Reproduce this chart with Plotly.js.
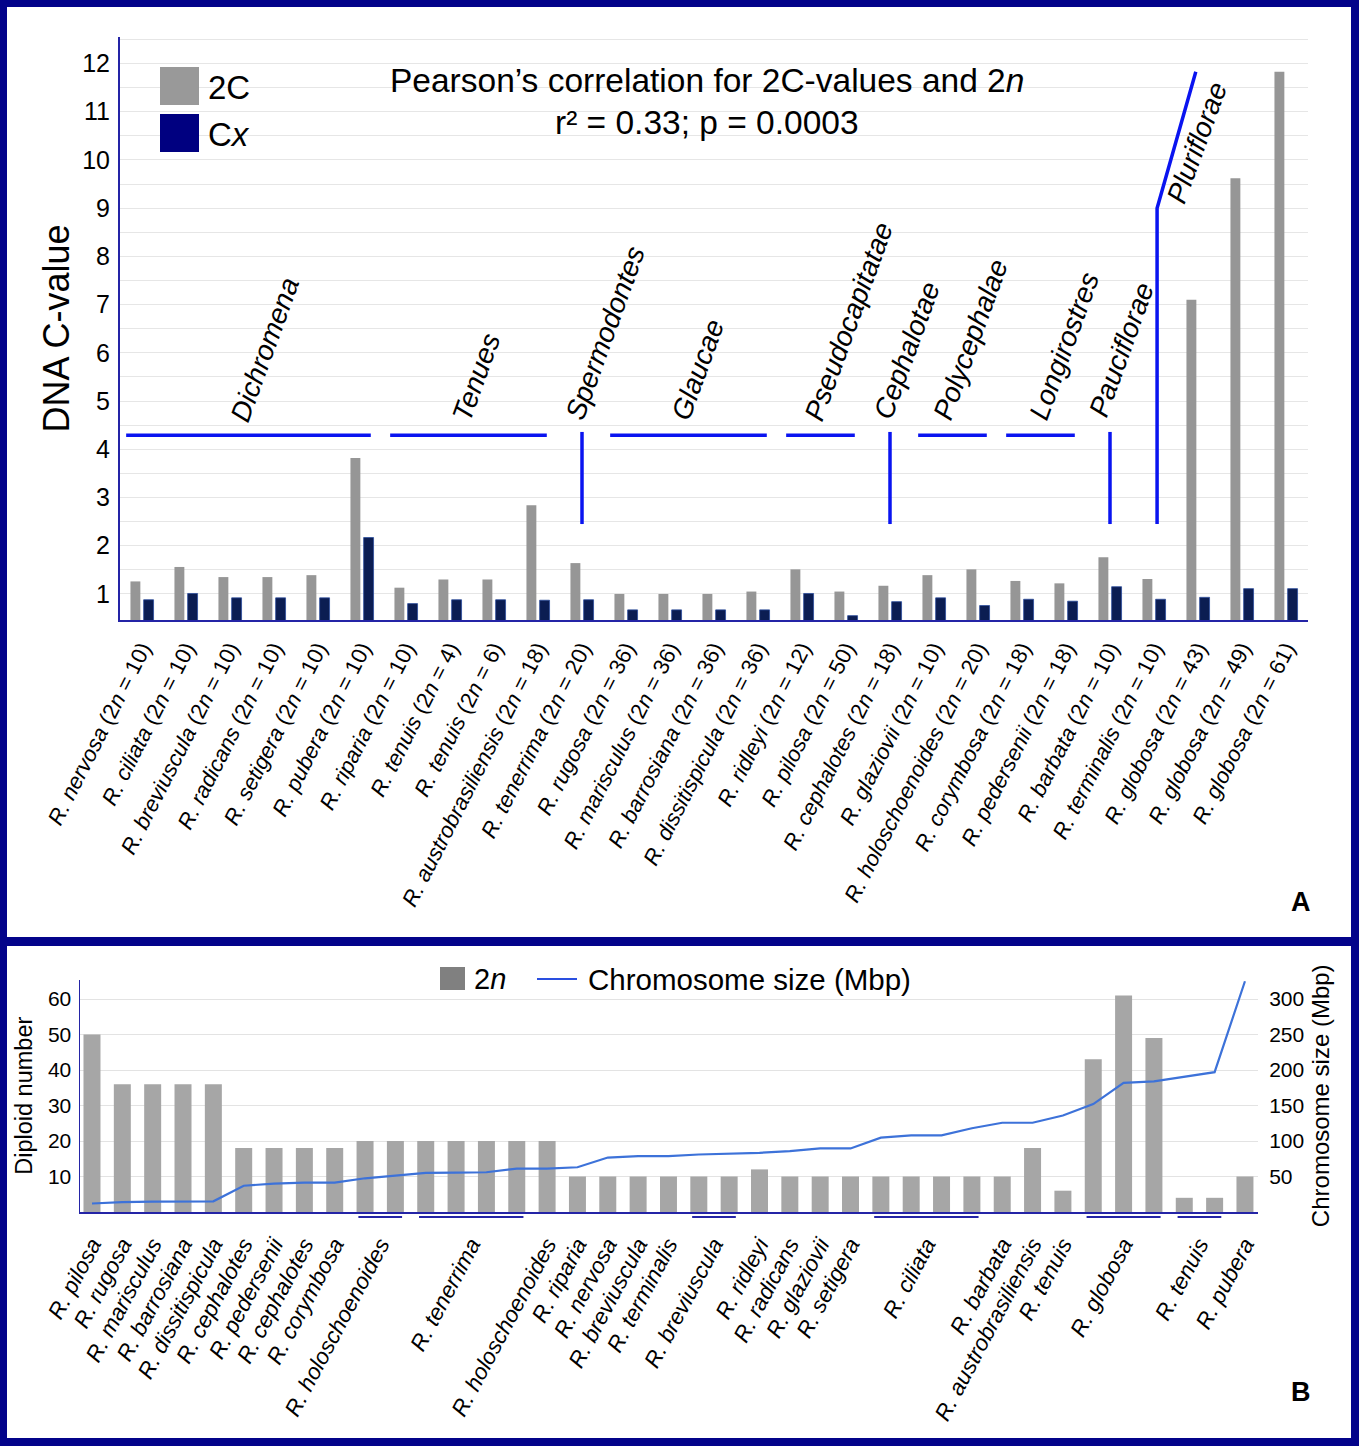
<!DOCTYPE html>
<html>
<head>
<meta charset="utf-8">
<script src="https://cdn.plot.ly/plotly-3.0.1.min.js"></script>
<style>
html,body{margin:0;padding:0;background:#fff;}
#chart{width:1359px;height:1446px;}
</style>
</head>
<body>
<div id="chart"></div>
<script>
// ---------- Panel A data ----------
const aSpecies = ['nervosa','ciliata','breviuscula','radicans','setigera','pubera','riparia','tenuis','tenuis','austrobrasiliensis','tenerrima','rugosa','marisculus','barrosiana','dissitispicula','ridleyi','pilosa','cephalotes','glaziovii','holoschoenoides','corymbosa','pedersenii','barbata','terminalis','globosa','globosa','globosa'];
const a2n = [10,10,10,10,10,10,10,4,6,18,20,36,36,36,36,12,50,18,10,20,18,18,10,10,43,49,61];
const a2C = [1.26,1.56,1.35,1.35,1.39,3.82,1.13,1.30,1.30,2.84,1.64,1.00,1.00,1.00,1.05,1.51,1.05,1.17,1.39,1.51,1.27,1.22,1.76,1.31,7.10,9.62,11.83];
const aCx = [0.88,1.01,0.92,0.92,0.92,2.17,0.80,0.88,0.88,0.87,0.88,0.67,0.67,0.67,0.67,1.01,0.55,0.84,0.92,0.76,0.89,0.85,1.15,0.89,0.93,1.11,1.11];

// Sections (category index spans)
const sections = [
  {name:'Dichromena', from:0, to:5, kind:'h'},
  {name:'Tenues', from:6, to:9, kind:'h'},
  {name:'Spermodontes', from:10, to:10, kind:'v'},
  {name:'Glaucae', from:11, to:14, kind:'h'},
  {name:'Pseudocapitatae', from:15, to:16, kind:'h'},
  {name:'Cephalotae', from:17, to:17, kind:'v'},
  {name:'Polycephalae', from:18, to:19, kind:'h'},
  {name:'Longirostres', from:20, to:21, kind:'h'},
  {name:'Pauciflorae', from:22, to:22, kind:'v'},
  {name:'Pluriflorae', from:23, to:26, kind:'p'}
];

// ---------- Panel B data ----------
const bSpecies = ['pilosa','rugosa','marisculus','barrosiana','dissitispicula','cephalotes','pedersenii','cephalotes','corymbosa','holoschoenoides','holoschoenoides','tenerrima','tenerrima','tenerrima','tenerrima','holoschoenoides','riparia','nervosa','breviuscula','terminalis','breviuscula','breviuscula','ridleyi','radicans','glaziovii','setigera','ciliata','ciliata','ciliata','ciliata','barbata','austrobrasiliensis','tenuis','globosa','globosa','globosa','tenuis','tenuis','pubera'];
const b2n = [50,36,36,36,36,18,18,18,18,20,20,20,20,20,20,20,10,10,10,10,10,10,12,10,10,10,10,10,10,10,10,18,6,43,61,49,4,4,10];
const bChrom = [12,14,14.5,15,15,37,40,41.5,41.5,47.5,51,55,55.5,56,61,61,63,76.7,78.6,78.6,81,82,83.3,85.7,89.5,89.5,104.8,108,108,118,125.7,125.7,136,152,182,184,191,197,325];

// ---------- helpers ----------
const W = 1359, H = 1446;
const PX = v => v / W, PY = v => 1 - v / H;
const FONT = 'Liberation Sans, Arial, Helvetica, sans-serif';
const NAVY = '#03038a';
const AXC = '#2424a6';

const aCats = aSpecies.map((s,i) => s + '|' + a2n[i] + '|' + i);
const aTicks = aSpecies.map((s,i) => '<i>R. ' + s + '</i> (2<i>n</i> = ' + a2n[i] + ')');
const bIdx = bSpecies.map((s,i) => i);

// runs of identical consecutive species in panel B
const runs = [];
bSpecies.forEach((s,i) => {
  const last = runs[runs.length-1];
  if (last && last.name === s) last.end = i; else runs.push({name:s, start:i, end:i});
});

const traces = [
  {type:'bar', x:aCats, y:a2C, name:'2C', marker:{color:'#969696'}, xaxis:'x', yaxis:'y', hoverinfo:'skip'},
  {type:'bar', x:aCats, y:aCx, name:'Cx', marker:{color:'#0b1d52', line:{color:'#2c4c9c', width:0.8}}, xaxis:'x', yaxis:'y', hoverinfo:'skip'},
  {type:'bar', x:bIdx, y:b2n, name:'2n', marker:{color:'#a6a6a6'}, width:0.56, xaxis:'x2', yaxis:'y2', hoverinfo:'skip'},
  {type:'scatter', mode:'lines', x:bIdx, y:bChrom, name:'Chromosome size (Mbp)', line:{color:'#3d72d9', width:2.2}, xaxis:'x2', yaxis:'y3', hoverinfo:'skip'}
];

const shapes = [];
const annotations = [];

// Panel A section lines and labels
const LINE_Y = 4.29, VTOP = 4.36, VBOT = 2.45;
const labelPos = {
  Dichromena:[2.80,6.06], Tenues:[7.61,5.50], Spermodontes:[10.52,6.41], Glaucae:[12.64,5.65],
  Pseudocapitatae:[16.07,6.64], Cephalotae:[17.39,6.04], Polycephalae:[18.84,6.27],
  Longirostres:[20.95,6.14], Pauciflorae:[22.27,6.06], Pluriflorae:[23.98,10.36]
};
sections.forEach(s => {
  const ln = {color:'#0a14f0', width:3.5};
  if (s.kind === 'h') {
    shapes.push({type:'line', xref:'x', yref:'y', x0:s.from-0.36, x1:s.to+0.2, y0:LINE_Y, y1:LINE_Y, line:ln});
  } else if (s.kind === 'v') {
    shapes.push({type:'line', xref:'x', yref:'y', x0:s.from, x1:s.from, y0:VBOT, y1:VTOP, line:ln});
  } else {
    shapes.push({type:'path', xref:'x', yref:'y', path:`M ${s.from+0.07} ${VBOT} L ${s.from+0.07} 9.0 L ${s.from+0.95} 11.83`, line:ln});
  }
  const p = labelPos[s.name];
  annotations.push({xref:'x', yref:'y', x:p[0], y:p[1], text:'<i>'+s.name+'</i>', showarrow:false, textangle:-70,
    font:{family:FONT, size:28, color:'#000'}, xanchor:'center', yanchor:'middle'});
});

// Panel A title
annotations.push({xref:'paper', yref:'paper', x:PX(707), y:PY(80), text:'Pearson\u2019s correlation for 2C-values and 2<i>n</i>', showarrow:false, font:{family:FONT, size:33.5, color:'#000'}, xanchor:'center', yanchor:'middle'});
annotations.push({xref:'paper', yref:'paper', x:PX(707), y:PY(122), text:'r\u00b2 = 0.33; p = 0.0003', showarrow:false, font:{family:FONT, size:33.5, color:'#000'}, xanchor:'center', yanchor:'middle'});

// Panel A legend
shapes.push({type:'rect', xref:'paper', yref:'paper', x0:PX(160), x1:PX(199), y0:PY(105), y1:PY(67), fillcolor:'#999999', line:{width:0}});
shapes.push({type:'rect', xref:'paper', yref:'paper', x0:PX(160), x1:PX(199), y0:PY(152), y1:PY(114), fillcolor:'#000080', line:{width:0}});
annotations.push({xref:'paper', yref:'paper', x:PX(206), y:PY(87), text:'2C', showarrow:false, font:{family:FONT, size:33, color:'#000'}, xanchor:'left', yanchor:'middle'});
annotations.push({xref:'paper', yref:'paper', x:PX(206), y:PY(134), text:'C<i>x</i>', showarrow:false, font:{family:FONT, size:33, color:'#000'}, xanchor:'left', yanchor:'middle'});

// Panel B legend
shapes.push({type:'rect', xref:'paper', yref:'paper', x0:PX(440), x1:PX(465), y0:PY(990), y1:PY(967), fillcolor:'#808080', line:{width:0}});
annotations.push({xref:'paper', yref:'paper', x:PX(472), y:PY(979), text:'2<i>n</i>', showarrow:false, font:{family:FONT, size:29, color:'#000'}, xanchor:'left', yanchor:'middle'});
shapes.push({type:'line', xref:'paper', yref:'paper', x0:PX(537), x1:PX(577), y0:PY(979), y1:PY(979), line:{color:'#2a4fe0', width:2}});
annotations.push({xref:'paper', yref:'paper', x:PX(586), y:PY(979), text:'Chromosome size (Mbp)', showarrow:false, font:{family:FONT, size:29.5, color:'#000'}, xanchor:'left', yanchor:'middle'});

// Panel B underlines for grouped samples
runs.filter(r => r.end > r.start).forEach(r => {
  shapes.push({type:'line', xref:'x2', yref:'paper', x0:r.start-0.22, x1:r.end+0.22, y0:PY(1217), y1:PY(1217), line:{color:'#2424a6', width:2}});
});

// Panel letters
annotations.push({xref:'paper', yref:'paper', x:PX(1301), y:PY(902), text:'<b>A</b>', showarrow:false, font:{family:FONT, size:27, color:'#000'}, xanchor:'center', yanchor:'middle'});
annotations.push({xref:'paper', yref:'paper', x:PX(1301), y:PY(1392), text:'<b>B</b>', showarrow:false, font:{family:FONT, size:27, color:'#000'}, xanchor:'center', yanchor:'middle'});

// Frame
const frame = [[0,0,W,7],[0,0,7,H],[W-8,0,W,H],[0,H-8,W,H],[0,937,W,946]];
frame.forEach(f => shapes.push({type:'rect', xref:'paper', yref:'paper', x0:PX(f[0]), x1:PX(f[2]), y0:PY(f[3]), y1:PY(f[1]), fillcolor:NAVY, line:{width:0}, layer:'above'}));

const layout = {
  width: W, height: H,
  margin:{l:0, r:0, t:0, b:0},
  paper_bgcolor:'#fff', plot_bgcolor:'#fff',
  showlegend:false,
  barmode:'group', bargap:0.4, bargroupgap:0.25,
  font:{family:FONT, color:'#000'},
  xaxis:{
    domain:[PX(120), PX(1308)], anchor:'y', type:'category',
    tickmode:'array', tickvals:aCats, ticktext:aTicks, tickangle:-63,
    tickfont:{family:FONT, size:22, color:'#000'},
    ticks:'outside', ticklen:5, tickcolor:'rgba(0,0,0,0)',
    showline:true, linecolor:AXC, linewidth:2, showgrid:false, automargin:false, fixedrange:true
  },
  yaxis:{
    domain:[PY(620), PY(37)], anchor:'x', range:[0.46, 12.55],
    tickvals:[1,2,3,4,5,6,7,8,9,10,11,12],
    tickfont:{family:FONT, size:25, color:'#000'},
    showgrid:true, gridcolor:'#e6e6e6', gridwidth:1,
    minor:{tickvals:[1.5,2.5,3.5,4.5,5.5,6.5,7.5,8.5,9.5,10.5,11.5,12.5], showgrid:true, gridcolor:'#e6e6e6', gridwidth:1},
    showline:true, linecolor:AXC, linewidth:2, zeroline:false,
    ticks:'outside', ticklen:3, tickcolor:'rgba(0,0,0,0)',
    title:{text:'DNA C-value', font:{family:FONT, size:36, color:'#000'}, standoff:2},
    automargin:false, fixedrange:true
  },
  xaxis2:{
    domain:[PX(80), PX(1258)], anchor:'y2', type:'linear', range:[-0.395, 38.43],
    tickmode:'array', tickvals:runs.map(r => (r.start+r.end)/2), ticktext:runs.map(r => '<i>R. '+r.name+'</i>'),
    tickangle:-62, tickfont:{family:FONT, size:22.5, color:'#000'},
    ticks:'outside', ticklen:9, tickcolor:'rgba(0,0,0,0)',
    showline:true, linecolor:AXC, linewidth:1.5, showgrid:false, zeroline:false, automargin:false, fixedrange:true
  },
  yaxis2:{
    domain:[PY(1212), PY(979.5)], anchor:'x2', range:[0, 65.5],
    tickvals:[10,20,30,40,50,60], tickfont:{family:FONT, size:21, color:'#000'},
    showgrid:true, gridcolor:'#e3e3e3', showline:true, linecolor:AXC, linewidth:1.5, zeroline:false,
    ticks:'outside', ticklen:3, tickcolor:'rgba(0,0,0,0)',
    title:{text:'Diploid number', font:{family:FONT, size:23.5, color:'#000'}, standoff:8},
    automargin:false, fixedrange:true
  },
  yaxis3:{
    overlaying:'y2', side:'right', anchor:'x2', range:[0, 327.5],
    tickvals:[50,100,150,200,250,300], tickfont:{family:FONT, size:21, color:'#000'},
    showgrid:false, showline:false, zeroline:false,
    ticks:'outside', ticklen:6, tickcolor:'rgba(0,0,0,0)',
    title:{text:'Chromosome size (Mbp)', font:{family:FONT, size:24, color:'#000'}, standoff:8},
    automargin:false, fixedrange:true
  },
  shapes: shapes,
  annotations: annotations
};

Plotly.newPlot('chart', traces, layout, {staticPlot:true, displayModeBar:false});
</script>
</body>
</html>
